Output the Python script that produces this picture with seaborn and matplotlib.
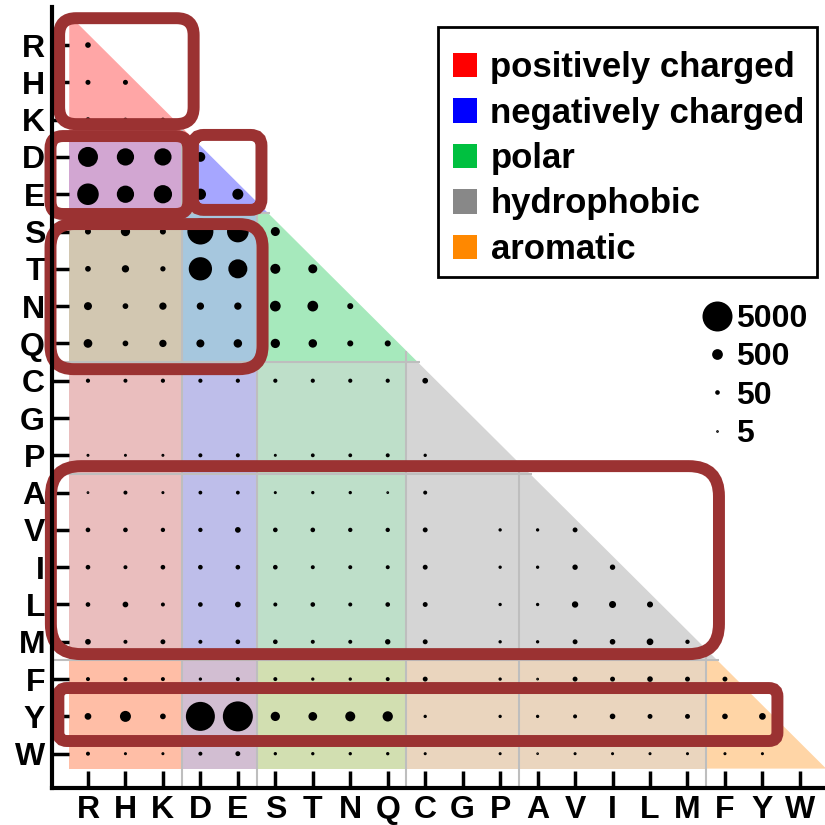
import numpy as np
import pandas as pd
import matplotlib
matplotlib.use("Agg")
import matplotlib.pyplot as plt
from matplotlib.patches import Polygon, Rectangle, FancyBboxPatch, Patch
from matplotlib.lines import Line2D
import matplotlib.colors as mcolors
import seaborn as sns

# ---------------- data ----------------
residues = ["R", "H", "K", "D", "E", "S", "T", "N", "Q", "C",
            "G", "P", "A", "V", "I", "L", "M", "F", "Y", "W"]

# lower-triangle counts: row residue vs. column residues R..(row residue)
counts_R = [90]
counts_H = [64, 64]
counts_K = [55, 30, 30]
counts_D = [2080, 1500, 1500, 400]
counts_E = [2450, 1500, 1700, 560, 530]
counts_S = [111, 350, 111, 3680, 2480, 326]
counts_T = [95, 190, 75, 2900, 1860, 420, 326]
counts_N = [241, 95, 190, 190, 190, 500, 500, 111]
counts_Q = [300, 95, 190, 241, 280, 350, 280, 111, 111]
counts_C = [35, 30, 35, 35, 35, 35, 35, 35, 35, 95]
counts_G = [0, 0, 0, 0, 0, 0, 0, 0, 0, 0, 0]
counts_P = [9, 9, 9, 30, 30, 9, 25, 25, 30, 15, 0, 0]
counts_A = [6, 30, 10, 25, 25, 10, 15, 15, 6, 30, 0, 0, 0]
counts_V = [50, 50, 40, 40, 95, 50, 50, 40, 40, 60, 0, 15, 15, 60]
counts_I = [50, 30, 50, 50, 50, 50, 30, 30, 30, 60, 0, 15, 15, 80, 80]
counts_L = [50, 95, 30, 50, 95, 30, 50, 30, 50, 60, 0, 15, 15, 130, 170, 111]
counts_M = [95, 30, 60, 30, 50, 50, 30, 30, 80, 60, 0, 15, 15, 60, 90, 150, 40]
counts_F = [30, 30, 30, 15, 30, 30, 15, 15, 30, 60, 0, 15, 6, 60, 60, 90, 60, 60]
counts_Y = [150, 530, 95, 4650, 5000, 350, 300, 420, 450, 15, 0, 15, 15, 30, 90, 60, 60, 90, 150]
counts_W = [30, 10, 10, 30, 60, 15, 15, 15, 15, 10, 0, 10, 5, 10, 10, 10, 10, 10, 10, 0]

all_counts = [counts_R, counts_H, counts_K, counts_D, counts_E, counts_S, counts_T,
              counts_N, counts_Q, counts_C, counts_G, counts_P, counts_A, counts_V,
              counts_I, counts_L, counts_M, counts_F, counts_Y, counts_W]

# residue classes (legend) and block boundaries
class_names = ["positively charged", "negatively charged", "polar", "hydrophobic", "aromatic"]
class_colors = ["#FF0000", "#0000FF", "#00C040", "#888888", "#FF8800"]
# blocks: (first index, last index, class index)
blocks = [(0, 2, 0), (3, 4, 1), (5, 8, 2), (9, 11, 3), (12, 16, 3), (17, 19, 4)]

size_legend_values = [5000, 500, 50, 5]

# highlight boxes (col0, row0, col1, row1)
highlights = [(-0.77, -0.72, 2.82, 2.12),
              (-1.00, 2.44, 2.68, 4.53),
              (2.80, 2.41, 4.63, 4.42),
              (-1.00, 4.80, 4.66, 8.69),
              (-0.99, 11.29, 16.84, 16.33),
              (-0.79, 17.24, 18.40, 18.66)]

# ---------------- build table ----------------
records = []
for i, vals in enumerate(all_counts):
    for j, v in enumerate(vals):
        records.append({"row": residues[i], "col": residues[j], "x": j, "y": i, "count": v})
df = pd.DataFrame(records)
df = df[df["count"] > 0]

# ---------------- figure ----------------
plt.rcParams["font.family"] = ["Liberation Sans", "DejaVu Sans"]
plt.rcParams["font.weight"] = "bold"

fig = plt.figure(figsize=(8.25, 8.25), dpi=100)
W = H = 825.0
ax = fig.add_axes([52 / W, 37 / H, 773 / W, 781 / H])
XL = (-0.96, 19.67)
YL = (19.92, -1.02)

alpha = 0.35
def tint(c):
    rgb = np.array(mcolors.to_rgb(c))
    return 1 - alpha * (1 - rgb)

delta = 0.3
top_edge, bottom_edge = -0.6, 19.4
n = len(residues)
for bi, (a, b, ci) in enumerate(blocks):
    t = a - 0.5 if a > 0 else top_edge
    u = b + 0.5 if b < n - 1 else bottom_edge
    # diagonal block (triangle-ish)
    poly = Polygon([(a - 0.5, t), (t + delta, t), (u + delta, u), (a - 0.5, u)],
                   closed=True, facecolor=tint(class_colors[ci]), edgecolor="none", zorder=1)
    ax.add_patch(poly)
    # off-diagonal rectangles (rows of this block, columns of earlier blocks)
    for (a2, b2, ci2) in blocks[:bi]:
        col = (tint(class_colors[ci]) + tint(class_colors[ci2])) / 2
        ax.add_patch(Rectangle((a2 - 0.5, t), (b2 - a2 + 1), u - t,
                               facecolor=col, edgecolor="none", zorder=1))

# separator lines
for (a, b, ci) in blocks[:-1]:
    bd = b + 0.5
    ax.plot([bd, bd], [bd - delta, YL[0]], color="#BEBEBE", lw=1.5, zorder=2,
            solid_capstyle="butt", clip_on=False)
    ax.plot([XL[0], bd + delta + 0.05], [bd, bd], color="#BEBEBE", lw=1.5, zorder=2,
            solid_capstyle="butt")

# dots
k_area = 412.0
sns.scatterplot(data=df, x="x", y="y", size="count", sizes=(0, k_area), size_norm=(0, 5000),
                color="black", edgecolor="black", linewidth=1.3, legend=False, ax=ax, zorder=4)

# highlight boxes
for (x0, y0, x1, y1) in highlights:
    w, h = x1 - x0, y1 - y0
    r = 0.16 * min(w, h)
    ax.add_patch(FancyBboxPatch((x0, y0), w, h, boxstyle=f"round,pad=0,rounding_size={r}",
                                facecolor="none", edgecolor="#9B3232", lw=8.6, zorder=5,
                                clip_on=False))

ax.set_xlim(*XL)
ax.set_ylim(*YL)
ax.set_xticks(range(n))
ax.set_xticklabels(residues)
ax.set_yticks(range(n))
ax.set_yticklabels(residues)
ax.set_xlabel("")
ax.set_ylabel("")
ax.tick_params(axis="both", direction="in", length=12, width=2.5, pad=5, labelsize=23,
               colors="black")
for lbl in ax.get_xticklabels() + ax.get_yticklabels():
    lbl.set_fontweight("bold")
for s in ["top", "right"]:
    ax.spines[s].set_visible(False)
for s in ["left", "bottom"]:
    ax.spines[s].set_linewidth(3)
    ax.spines[s].set_zorder(6)

# class legend (frame drawn separately)
frame = Rectangle((438 / W, 1 - 277 / H), (817 - 438) / W, 250 / H,
                  transform=fig.transFigure, facecolor="white",
                  edgecolor="black", lw=2, zorder=6, clip_on=False)
ax.add_patch(frame)
handles = [Patch(facecolor=c, edgecolor="none") for c in class_colors]
leg1 = ax.legend(handles, class_names, loc="upper left",
                 bbox_to_anchor=(453 / W, 1 - 51 / H), bbox_transform=fig.transFigure,
                 borderaxespad=0, fontsize=25, frameon=False,
                 handlelength=0.7, handleheight=0.7,
                 handletextpad=0.38, borderpad=0, labelspacing=0.36)
for t in leg1.get_texts():
    t.set_fontweight("bold")
leg1.set_zorder(7)
ax.add_artist(leg1)

# size legend
size_handles = [Line2D([], [], marker="o", linestyle="", color="black",
                       markersize=np.sqrt(k_area * v / 5000.0), markeredgewidth=1.3)
                for v in size_legend_values]
leg2 = ax.legend(size_handles, [str(v) for v in size_legend_values], loc="upper left",
                 bbox_to_anchor=(701 / W, 1 - 304 / H), bbox_transform=fig.transFigure,
                 borderaxespad=0, borderpad=0, fontsize=23, frameon=False,
                 handlelength=1.0, handletextpad=0.1, labelspacing=0.26)
for t in leg2.get_texts():
    t.set_fontweight("bold")
leg2.set_zorder(7)

fig.savefig("out.png", dpi=100)
